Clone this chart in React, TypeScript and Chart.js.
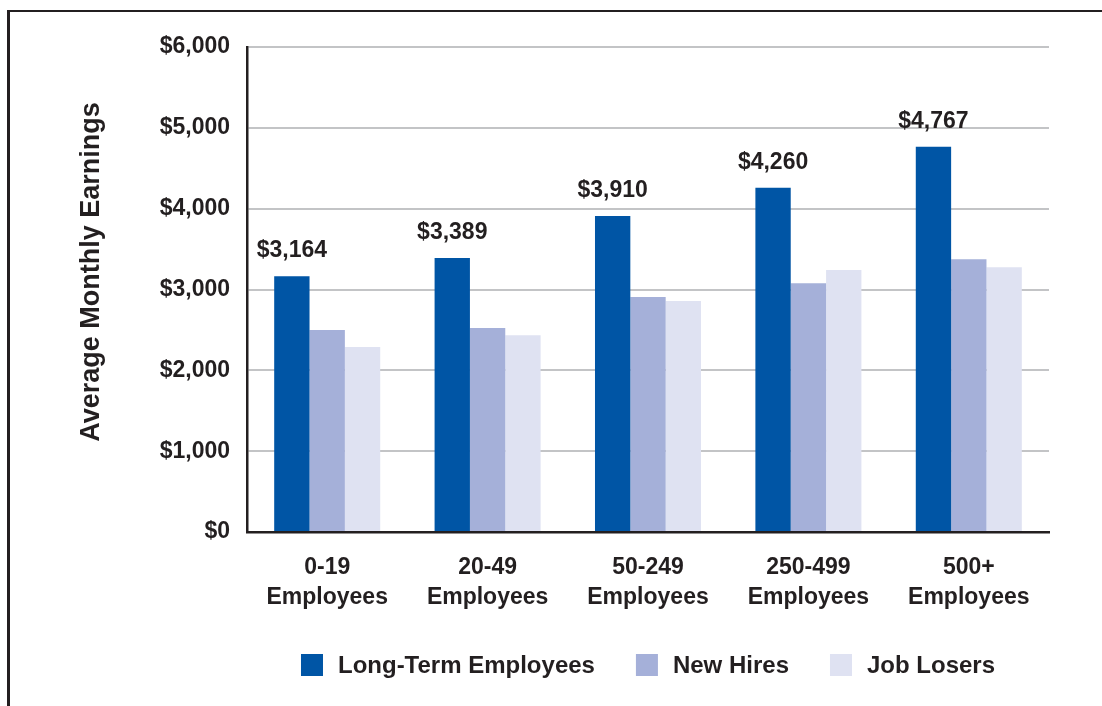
import React, { useEffect, useRef } from 'react';
import { Chart, registerables } from 'chart.js';

Chart.register(...registerables);

// ---- Data ----
const categories: string[][] = [
  ['0-19', 'Employees'],
  ['20-49', 'Employees'],
  ['50-249', 'Employees'],
  ['250-499', 'Employees'],
  ['500+', 'Employees'],
];
const seriesNames = ['Long-Term Employees', 'New Hires', 'Job Losers'];
const longTermEmployees = [3164, 3389, 3910, 4260, 4767];
const newHires = [2500, 2524, 2907, 3077, 3374];
const jobLosers = [2290, 2435, 2858, 3241, 3275];
const yTitle = 'Average Monthly Earnings';
const yMin = 0;
const yMax = 6000;
const yStep = 1000;

// ---- Styles ----
const FONT = '"Liberation Sans", Arial, Helvetica, sans-serif';
const TEXT = '#231f20';
const COLORS = ['#0055a5', '#a5b0d9', '#dfe2f2'];

const fmt = (v: number) => '$' + v.toLocaleString('en-US');

const yTitlePlugin = {
  id: 'yTitlePlugin',
  afterDraw(chart: any) {
    const ctx = chart.ctx;
    ctx.save();
    ctx.translate(99, 272);
    ctx.rotate(-Math.PI / 2);
    ctx.font = `bold 27px ${FONT}`;
    ctx.fillStyle = TEXT;
    ctx.textAlign = 'center';
    ctx.textBaseline = 'alphabetic';
    ctx.fillText(yTitle, 0, 0);
    ctx.restore();
  },
};

const valueLabelPlugin = {
  id: 'valueLabelPlugin',
  afterDatasetsDraw(chart: any) {
    const ctx = chart.ctx;
    const meta = chart.getDatasetMeta(0);
    const data = chart.data.datasets[0].data as number[];
    ctx.save();
    ctx.font = `bold 23px ${FONT}`;
    ctx.fillStyle = TEXT;
    ctx.textAlign = 'center';
    ctx.textBaseline = 'alphabetic';
    meta.data.forEach((el: any, i: number) => {
      ctx.fillText(fmt(data[i]), el.x, el.y - 19);
    });
    ctx.restore();
  },
};

const legendPlugin = {
  id: 'customLegend',
  afterDraw(chart: any) {
    const ctx = chart.ctx;
    const box = 22;
    const textGap = 15;
    const itemGap = 41;
    const cy = 665;
    ctx.save();
    ctx.font = `bold 24px ${FONT}`;
    const items = chart.data.datasets.map((ds: any) => ({
      label: ds.label as string,
      color: ds.backgroundColor as string,
      w: ctx.measureText(ds.label).width,
    }));
    const total =
      items.reduce((s: number, it: any) => s + box + textGap + it.w, 0) +
      itemGap * (items.length - 1);
    const cx = (chart.chartArea.left + chart.chartArea.right) / 2;
    let x = cx - total / 2;
    ctx.textBaseline = 'middle';
    ctx.textAlign = 'left';
    items.forEach((it: any) => {
      ctx.fillStyle = it.color;
      ctx.fillRect(x, cy - box / 2, box, box);
      ctx.fillStyle = TEXT;
      ctx.fillText(it.label, x + box + textGap, cy + 1);
      x += box + textGap + it.w + itemGap;
    });
    ctx.restore();
  },
};

export default function App() {
  const canvasRef = useRef<HTMLCanvasElement | null>(null);

  useEffect(() => {
    document.body.style.margin = '0';
    document.body.style.overflow = 'hidden';
    const canvas = canvasRef.current;
    if (!canvas) return;
    const chart = new Chart(canvas, {
      type: 'bar',
      data: {
        labels: categories,
        datasets: [
          { label: seriesNames[0], data: longTermEmployees, backgroundColor: COLORS[0] },
          { label: seriesNames[1], data: newHires, backgroundColor: COLORS[1] },
          { label: seriesNames[2], data: jobLosers, backgroundColor: COLORS[2] },
        ],
      },
      options: {
        responsive: false,
        animation: false,
        devicePixelRatio: 1,
        layout: { padding: { left: 0, top: 47, right: 53, bottom: 84 } },
        datasets: {
          bar: { categoryPercentage: 0.661, barPercentage: 1.0, borderWidth: 0 },
        },
        plugins: {
          legend: { display: false },
          tooltip: { enabled: false },
          title: { display: false },
        },
        scales: {
          x: {
            grid: { display: false, drawTicks: false },
            border: { display: true, color: TEXT, width: 2.5 },
            ticks: {
              color: TEXT,
              font: { family: FONT, size: 23, weight: 'bold', lineHeight: 1.33 },
              padding: 20,
              maxRotation: 0,
              autoSkip: false,
            },
            afterFit: (s: any) => {
              s.height = 90;
            },
          },
          y: {
            min: yMin,
            max: yMax,
            grid: { color: '#c3c4c6', lineWidth: 2, drawTicks: false },
            border: { display: true, color: TEXT, width: 2.5 },
            ticks: {
              stepSize: yStep,
              color: TEXT,
              padding: 17,
              font: { family: FONT, size: 23, weight: 'bold' },
              callback: (v: any) => fmt(Number(v)),
            },
            afterFit: (s: any) => {
              s.width = 247;
            },
          },
        },
      },
      plugins: [yTitlePlugin, valueLabelPlugin, legendPlugin],
    } as any);
    return () => chart.destroy();
  }, []);

  return (
    <div style={{ position: 'relative', width: 1102, height: 706, overflow: 'hidden', background: '#fff' }}>
      <div
        style={{
          position: 'absolute',
          left: 7,
          top: 10,
          width: 2000,
          height: 2000,
          borderTop: `2px solid ${TEXT}`,
          borderLeft: `3px solid ${TEXT}`,
          boxSizing: 'border-box',
        }}
      />
      <canvas
        ref={canvasRef}
        width={1102}
        height={706}
        style={{ position: 'absolute', left: 0, top: 0, width: 1102, height: 706, display: 'block' }}
      />
    </div>
  );
}
